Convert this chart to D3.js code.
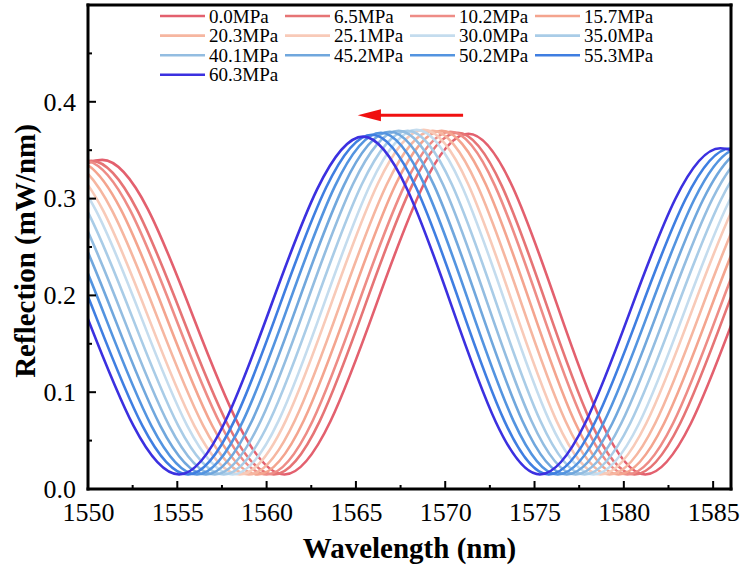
<!DOCTYPE html>
<html>
<head>
<meta charset="utf-8">
<script src="https://cdn.jsdelivr.net/npm/d3@7"></script>
<style>
  body { margin: 0; background: #fff; }
  svg { display: block; }
  text { font-family: "Liberation Serif", "Times New Roman", Times, serif; fill: #000; }
</style>
</head>
<body>
<div id="chart"></div>
<script>
// ── Data ──────────────────────────────────────────────────────────────────────
const pressures = ['0.0MPa', '6.5MPa', '10.2MPa', '15.7MPa', '20.3MPa', '25.1MPa', '30.0MPa',
  '35.0MPa', '40.1MPa', '45.2MPa', '50.2MPa', '55.3MPa', '60.3MPa'];

const colors = ['#e3606e', '#e67475', '#ee8c86', '#f4a48e', '#f6b6a0', '#f8cab8', '#c4dcee',
  '#a9cce7', '#93bde1', '#70a7dd', '#5394e0', '#3f7ee1', '#3b30e0'];

// trough / peak wavelengths (nm), left to right
const extremaWl = [
  [1540.6, 1550.8, 1561.0, 1571.3, 1581.2, 1591.4, 1601.4],
  [1540.0, 1550.2, 1560.4, 1570.7, 1580.6, 1590.8, 1600.8],
  [1539.6, 1549.8, 1560.0, 1570.3, 1580.2, 1590.4, 1600.4],
  [1539.1, 1549.3, 1559.5, 1569.8, 1579.7, 1589.9, 1599.9],
  [1538.6, 1548.8, 1559.0, 1569.3, 1579.2, 1589.4, 1599.4],
  [1538.1, 1548.3, 1558.5, 1568.8, 1578.7, 1588.9, 1598.9],
  [1537.7, 1547.9, 1558.1, 1568.4, 1578.3, 1588.5, 1598.5],
  [1537.2, 1547.4, 1557.6, 1567.9, 1577.8, 1588.0, 1598.0],
  [1536.7, 1546.9, 1557.1, 1567.4, 1577.3, 1587.5, 1597.5],
  [1536.2, 1546.4, 1556.6, 1566.9, 1576.8, 1587.0, 1597.0],
  [1535.7, 1545.9, 1556.1, 1566.4, 1576.3, 1586.5, 1596.5],
  [1535.2, 1545.4, 1555.6, 1565.9, 1575.8, 1586.0, 1596.0],
  [1534.7, 1544.9, 1555.1, 1565.4, 1575.3, 1585.4, 1595.5]
];

// reflection (mW/nm) at those extrema
const extremaVal = [
  [0.015, 0.340, 0.015, 0.367, 0.015, 0.352, 0.015],
  [0.015, 0.339, 0.015, 0.368, 0.015, 0.352, 0.015],
  [0.015, 0.339, 0.015, 0.369, 0.015, 0.352, 0.015],
  [0.015, 0.339, 0.015, 0.370, 0.015, 0.352, 0.015],
  [0.015, 0.338, 0.015, 0.370, 0.015, 0.352, 0.015],
  [0.015, 0.338, 0.015, 0.371, 0.015, 0.352, 0.015],
  [0.015, 0.338, 0.015, 0.371, 0.015, 0.352, 0.015],
  [0.015, 0.338, 0.015, 0.370, 0.015, 0.352, 0.015],
  [0.015, 0.337, 0.015, 0.370, 0.015, 0.352, 0.015],
  [0.015, 0.337, 0.015, 0.369, 0.015, 0.352, 0.015],
  [0.015, 0.337, 0.015, 0.368, 0.015, 0.352, 0.015],
  [0.015, 0.336, 0.015, 0.366, 0.015, 0.352, 0.015],
  [0.015, 0.336, 0.015, 0.364, 0.015, 0.352, 0.015]
];

const xTicks = [1550, 1555, 1560, 1565, 1570, 1575, 1580, 1585];
const xMinor = [1552.5, 1557.5, 1562.5, 1567.5, 1572.5, 1577.5, 1582.5];
const yTicks = [0.0, 0.1, 0.2, 0.3, 0.4];
const yMinor = [0.05, 0.15, 0.25, 0.35, 0.45];

// ── SVG setup ─────────────────────────────────────────────────────────────────
const W = 741, H = 574;
const margin = { left: 88, right: 10, top: 5, bottom: 85 };
const FONT = '"Liberation Serif", "Times New Roman", Times, serif';

const svg = d3.select('#chart').append('svg')
  .attr('width', W)
  .attr('height', H);

const x = d3.scaleLinear().domain([1550, 1586]).range([margin.left, W - margin.right]);
const y = d3.scaleLinear().domain([0, 0.5]).range([H - margin.bottom, margin.top]);
const [x0, x1] = x.range();
const [yb, yt] = y.range();

svg.append('defs').append('clipPath')
  .attr('id', 'plot-clip')
  .append('rect')
  .attr('x', x0).attr('y', yt)
  .attr('width', x1 - x0)
  .attr('height', yb - yt);

// ── Curves ────────────────────────────────────────────────────────────────────
const line = d3.line()
  .x(d => x(d[0]))
  .y(d => y(d[1]))
  .curve(d3.curveMonotoneX);

const series = pressures.map((p, i) => ({
  name: p,
  color: colors[i],
  points: extremaWl[i].map((w, j) => [w, extremaVal[i][j]])
}));

svg.append('g')
  .attr('clip-path', 'url(#plot-clip)')
  .selectAll('path')
  .data(series)
  .join('path')
  .attr('d', d => line(d.points))
  .attr('fill', 'none')
  .attr('stroke', d => d.color)
  .attr('stroke-width', 2.6);

// ── Axes (tick labels from d3 axes, tick marks as filled rects) ────────────
const xAxis = svg.append('g')
  .attr('transform', `translate(0,${yb})`)
  .call(d3.axisBottom(x).tickValues(xTicks).tickFormat(d3.format('d')).tickSize(0).tickPadding(14));
xAxis.select('.domain').remove();
xAxis.selectAll('text')
  .style('font-family', FONT).style('font-size', '26px').style('fill', '#000');

const yAxis = svg.append('g')
  .attr('transform', `translate(${x0},0)`)
  .call(d3.axisLeft(y).tickValues(yTicks).tickFormat(d3.format('.1f')).tickSize(0).tickPadding(12));
yAxis.select('.domain').remove();
yAxis.selectAll('text')
  .style('font-family', FONT).style('font-size', '26px').style('fill', '#000');

const tickG = svg.append('g').attr('fill', '#000');
tickG.selectAll('rect.xmaj')
  .data(xTicks)
  .join('rect').attr('class', 'xmaj')
  .attr('x', d => x(d) - 1).attr('y', yb - 8)
  .attr('width', 2).attr('height', 8);
tickG.selectAll('rect.xmin')
  .data(xMinor)
  .join('rect').attr('class', 'xmin')
  .attr('x', d => x(d) - 1).attr('y', yb - 4)
  .attr('width', 2).attr('height', 4);
tickG.selectAll('rect.ymaj')
  .data(yTicks)
  .join('rect').attr('class', 'ymaj')
  .attr('x', x0).attr('y', d => y(d) - 1)
  .attr('width', 8).attr('height', 2);
tickG.selectAll('rect.ymin')
  .data(yMinor)
  .join('rect').attr('class', 'ymin')
  .attr('x', x0).attr('y', d => y(d) - 1)
  .attr('width', 4).attr('height', 2);

// frame as four filled bars
const fw = 3;
const frame = svg.append('g').attr('fill', '#000');
frame.append('rect').attr('x', x0 - fw / 2).attr('y', yt - fw / 2).attr('width', x1 - x0 + fw).attr('height', fw);
frame.append('rect').attr('x', x0 - fw / 2).attr('y', yb - fw / 2).attr('width', x1 - x0 + fw).attr('height', fw);
frame.append('rect').attr('x', x0 - fw / 2).attr('y', yt - fw / 2).attr('width', fw).attr('height', yb - yt + fw);
frame.append('rect').attr('x', x1 - fw / 2).attr('y', yt - fw / 2).attr('width', fw).attr('height', yb - yt + fw);

// titles
svg.append('text')
  .attr('x', (x0 + x1) / 2)
  .attr('y', 558)
  .attr('text-anchor', 'middle')
  .style('font-family', FONT)
  .style('font-size', '29px')
  .style('font-weight', 'bold')
  .text('Wavelength (nm)');

svg.append('text')
  .attr('transform', `translate(35,${(yb + yt) / 2 + 4}) rotate(-90)`)
  .attr('text-anchor', 'middle')
  .style('font-family', FONT)
  .style('font-size', '29px')
  .style('font-weight', 'bold')
  .text('Reflection (mW/nm)');

// ── Legend ────────────────────────────────────────────────────────────────────
const legend = svg.append('g').attr('transform', 'translate(160,16)');
const item = legend.selectAll('g')
  .data(series)
  .join('g')
  .attr('transform', (d, i) => `translate(${(i % 4) * 125},${Math.floor(i / 4) * 19.6})`);
item.append('line')
  .attr('x1', 0).attr('x2', 45)
  .attr('stroke', d => d.color)
  .attr('stroke-width', 2.6);
item.append('text')
  .attr('x', 49)
  .attr('dy', '0.35em')
  .style('font-family', FONT)
  .style('font-size', '19px')
  .text(d => d.name);

// ── Arrow annotation ─────────────────────────────────────────────────────────
const arrowY = y(0.386);
svg.append('line')
  .attr('x1', x(1571)).attr('x2', x(1566.2))
  .attr('y1', arrowY).attr('y2', arrowY)
  .attr('stroke', '#f01010')
  .attr('stroke-width', 3);
svg.append('path')
  .attr('d', d3.line()([[x(1565.1), arrowY], [x(1566.4), arrowY - 6], [x(1566.4), arrowY + 6]]) + 'Z')
  .attr('fill', '#f01010');
</script>
</body>
</html>
